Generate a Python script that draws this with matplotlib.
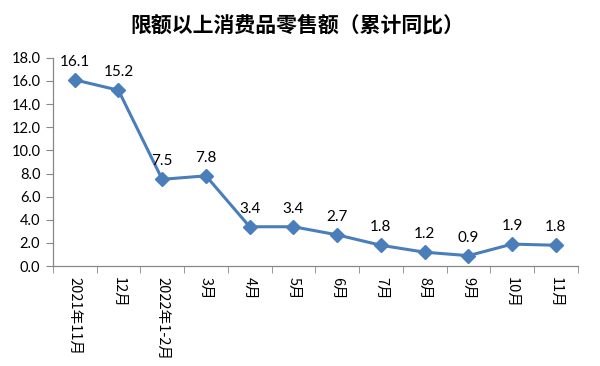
import matplotlib.pyplot as plt
import numpy as np

plt.rcParams['font.family'] = ['Noto Sans CJK SC', 'DejaVu Sans']

# data
months = ["2021年11月", "12月", "2022年1-2月", "3月", "4月", "5月",
          "6月", "7月", "8月", "9月", "10月", "11月"]
growth = [16.1, 15.2, 7.5, 7.8, 3.4, 3.4, 2.7, 1.8, 1.2, 0.9, 1.9, 1.8]

fig = plt.figure(figsize=(6, 3.66), dpi=100)
ax = fig.add_axes([0.088, 0.273, 0.875, 0.569])

x = np.arange(len(months))
ax.plot(x, growth, color="#4A7EBB", linewidth=2.2, marker="D",
        markersize=7, markerfacecolor="#4A7EBB", markeredgecolor="#4A7EBB")

for xi, v in zip(x, growth):
    ax.annotate(f"{v:.1f}", (xi, v), xytext=(0, 8), textcoords="offset points",
                ha="center", va="bottom", fontsize=11, family="Lato")

ax.set_xlim(-0.5, len(months) - 0.5)
ax.set_ylim(0, 18)
ax.set_yticks(np.arange(0, 18.1, 2))
ax.set_yticklabels([f"{t:.1f}" for t in np.arange(0, 18.1, 2)],
                   fontsize=10.5, family="Lato")

# category labels centred, ticks on the boundaries
ax.set_xticks(x)
ax.set_xticklabels(months, rotation=-90, fontsize=10.5, va="top", ha="center")
ax.tick_params(axis="x", length=0, pad=8)
ax.set_xticks(np.arange(-0.5, len(months)), minor=True)
ax.tick_params(axis="x", which="minor", length=5, color="#888888")
ax.tick_params(axis="y", length=5, color="#888888", pad=4)

for side in ["top", "right"]:
    ax.spines[side].set_visible(False)
for side in ["left", "bottom"]:
    ax.spines[side].set_color("#888888")
    ax.spines[side].set_linewidth(0.9)

fig.text(0.495, 0.932, "限额以上消费品零售额（累计同比）", ha="center", va="center",
         fontsize=15, fontweight="bold")

plt.savefig("out.png", dpi=100)
